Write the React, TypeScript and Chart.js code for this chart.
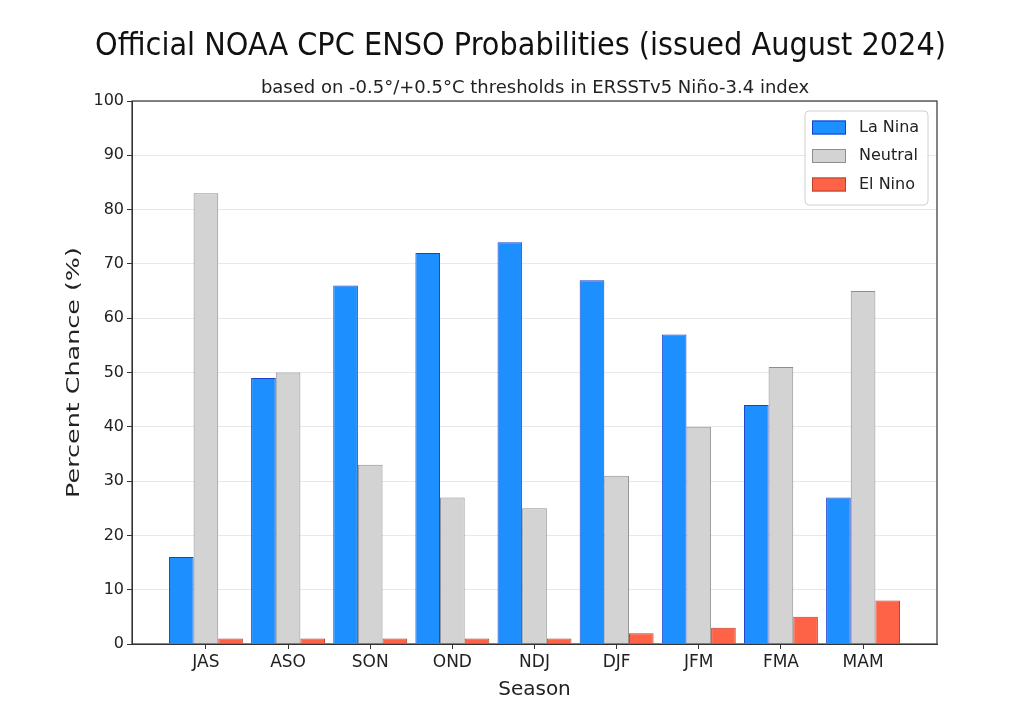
import React, { useEffect, useRef } from "react";
import { Chart, registerables } from "chart.js";

Chart.register(...registerables);

const seasons = ["JAS", "ASO", "SON", "OND", "NDJ", "DJF", "JFM", "FMA", "MAM"];
const laNina = [16, 49, 66, 72, 74, 67, 57, 44, 27];
const neutral = [83, 50, 33, 27, 25, 31, 40, 51, 65];
const elNino = [1, 1, 1, 1, 1, 2, 3, 5, 8];
const yTicks = [0, 10, 20, 30, 40, 50, 60, 70, 80, 90, 100];

const TITLE = "Official NOAA CPC ENSO Probabilities (issued August 2024)";
const SUBTITLE = "based on -0.5°/+0.5°C thresholds in ERSSTv5 Niño-3.4 index";
const Y_TITLE = "Percent Chance (%)";
const FONT = "'DejaVu Sans', sans-serif";

const headerPlugin = {
  id: "header",
  afterDraw(chart: any) {
    const ctx = chart.ctx;
    ctx.save();
    ctx.fillStyle = "#111";
    ctx.textAlign = "center";
    ctx.textBaseline = "alphabetic";
    ctx.save();
    ctx.translate(520.5, 54.5);
    ctx.scale(1, 1.08);
    ctx.font = `28.8px ${FONT}`;
    ctx.fillText(TITLE, 0, 0);
    ctx.restore();
    ctx.font = `18px ${FONT}`;
    ctx.fillStyle = "#222";
    ctx.fillText(SUBTITLE, 535, 92.7);
    // y-axis title
    ctx.save();
    ctx.translate(74, 372.5);
    ctx.rotate(-Math.PI / 2);
    ctx.scale(1.27, 0.92);
    ctx.textBaseline = "middle";
    ctx.font = `20px ${FONT}`;
    ctx.fillStyle = "#222";
    ctx.fillText(Y_TITLE, 0, 0);
    ctx.restore();
    ctx.restore();
  },
};

const framePlugin = {
  id: "frame",
  afterDatasetsDraw(chart: any) {
    const { ctx, chartArea } = chart;
    ctx.save();
    ctx.strokeStyle = "#333";
    ctx.lineWidth = 1.2;
    ctx.strokeRect(chartArea.left, chartArea.top, chartArea.right - chartArea.left, chartArea.bottom - chartArea.top);
    ctx.restore();
  },
};

const legendPlugin = {
  id: "boxLegend",
  afterDraw(chart: any) {
    const ctx = chart.ctx;
    const x = 805, y = 111, w = 123, h = 94, r = 4;
    ctx.save();
    ctx.beginPath();
    ctx.moveTo(x + r, y);
    ctx.arcTo(x + w, y, x + w, y + h, r);
    ctx.arcTo(x + w, y + h, x, y + h, r);
    ctx.arcTo(x, y + h, x, y, r);
    ctx.arcTo(x, y, x + w, y, r);
    ctx.closePath();
    ctx.fillStyle = "rgba(255,255,255,0.85)";
    ctx.fill();
    ctx.strokeStyle = "#d0d0d0";
    ctx.lineWidth = 1;
    ctx.stroke();
    chart.data.datasets.forEach((ds: any, i: number) => {
      const cy = 127.5 + i * 28.5;
      ctx.fillStyle = ds.backgroundColor;
      ctx.fillRect(812, cy - 7, 34, 14);
      ctx.strokeStyle = ds.borderColor;
      ctx.lineWidth = 1;
      ctx.strokeRect(812.5, cy - 6.5, 33, 13);
      ctx.fillStyle = "#222";
      ctx.font = `16px ${FONT}`;
      ctx.textAlign = "left";
      ctx.textBaseline = "middle";
      ctx.fillText(ds.label, 859, cy);
    });
    ctx.restore();
  },
};

export default function App() {
  const ref = useRef<HTMLCanvasElement>(null);
  useEffect(() => {
    if (!ref.current) return;
    const toXY = (arr: number[]) => arr.map((v, i) => ({ x: i, y: v }));
    const chart = new Chart(ref.current, {
      type: "bar",
      data: {
        datasets: [
          { label: "La Nina", data: toXY(laNina), backgroundColor: "#1E8FFF", borderColor: "#1c3fc8", borderWidth: 1 },
          { label: "Neutral", data: toXY(neutral), backgroundColor: "#D3D3D3", borderColor: "#8e8e8e", borderWidth: 1 },
          { label: "El Nino", data: toXY(elNino), backgroundColor: "#FF6347", borderColor: "#b8402c", borderWidth: 1 },
        ],
      },
      options: {
        responsive: false,
        animation: false,
        layout: { padding: { top: 101, right: 87, bottom: 0, left: 0 } },
        datasets: { bar: { categoryPercentage: 0.9, barPercentage: 1.0 } } as any,
        plugins: {
          legend: { display: false },
          tooltip: { enabled: false },
          title: { display: false },
        },
        scales: {
          x: {
            type: "linear",
            min: -0.9,
            max: 8.9,
            offset: false,
            afterBuildTicks: (scale: any) => {
              scale.ticks = seasons.map((_, i) => ({ value: i }));
            },
            afterFit: (scale: any) => {
              scale.height = 79;
            },
            ticks: {
              autoSkip: false,
              maxRotation: 0,
              padding: 3,
              color: "#222",
              font: { family: FONT, size: 17 },
              callback: (v: any) => seasons[Math.round(Number(v))] ?? "",
            },
            grid: { display: true, drawOnChartArea: false, drawTicks: true, tickLength: 5, color: "#333", offset: false },
            border: { display: true, color: "#333" },
            title: {
              display: true,
              text: "Season",
              color: "#222",
              font: { family: FONT, size: 20 },
              padding: { top: 0, bottom: 21 },
            },
          },
          y: {
            min: 0,
            max: 100,
            afterBuildTicks: (scale: any) => {
              scale.ticks = yTicks.map((v) => ({ value: v }));
            },
            afterFit: (scale: any) => {
              scale.width = 132;
            },
            ticks: {
              padding: 3,
              color: "#222",
              font: { family: FONT, size: 16 },
            },
            grid: { color: "#e8e8e8", tickColor: "#333", tickLength: 5, drawTicks: true },
            border: { display: true, color: "#333" },
            title: { display: false },
          },
        },
      },
      plugins: [headerPlugin, framePlugin, legendPlugin],
    });
    return () => chart.destroy();
  }, []);
  return (
    <div style={{ position: "absolute", left: 0, top: 0, width: 1024, height: 723, background: "#fff" }}>
      <canvas ref={ref} width={1024} height={723} style={{ display: "block" }} />
    </div>
  );
}
